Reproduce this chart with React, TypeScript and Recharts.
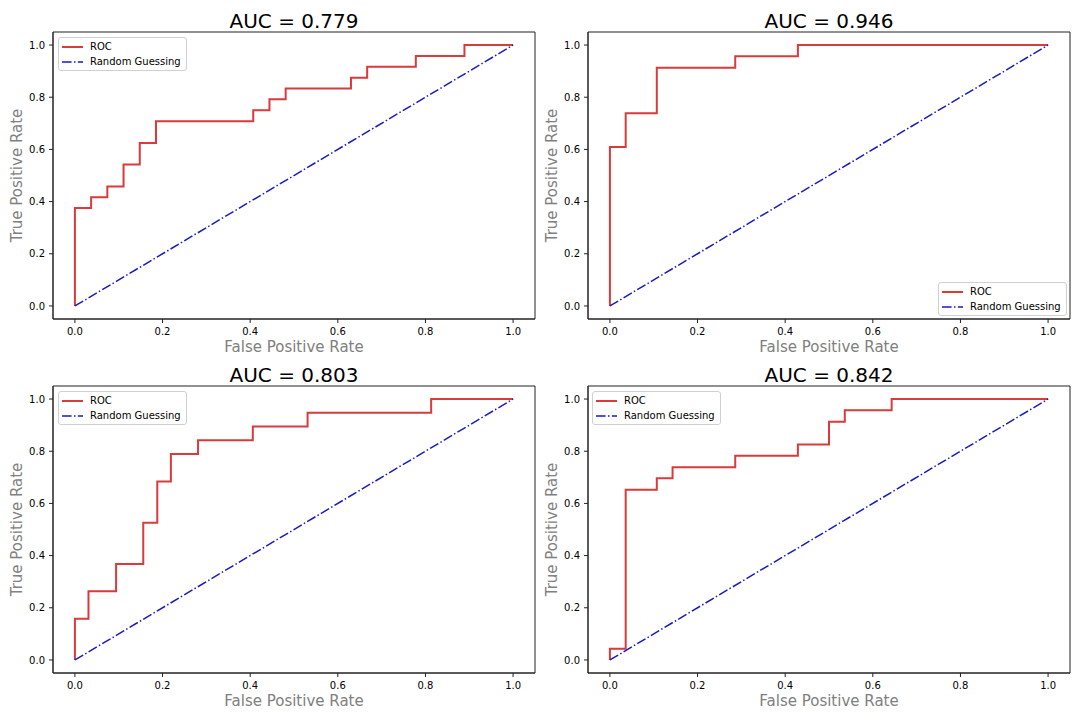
import { LineChart, Line, XAxis, YAxis, Legend, ReferenceArea, Label } from 'recharts';

// ROC curve corner points
const fpr1 = [0, 0, 0.037, 0.037, 0.074, 0.074, 0.111, 0.111, 0.148, 0.148, 0.185, 0.185, 0.407, 0.407, 0.444, 0.444, 0.481, 0.481, 0.63, 0.63, 0.667, 0.667, 0.778, 0.778, 0.889, 0.889, 1];
const tpr1 = [0, 0.375, 0.375, 0.417, 0.417, 0.458, 0.458, 0.542, 0.542, 0.625, 0.625, 0.708, 0.708, 0.75, 0.75, 0.792, 0.792, 0.833, 0.833, 0.875, 0.875, 0.917, 0.917, 0.958, 0.958, 1, 1];

const fpr2 = [0, 0, 0.036, 0.036, 0.107, 0.107, 0.286, 0.286, 0.429, 0.429, 1];
const tpr2 = [0, 0.609, 0.609, 0.739, 0.739, 0.913, 0.913, 0.957, 0.957, 1, 1];

const fpr3 = [0, 0, 0.031, 0.031, 0.094, 0.094, 0.156, 0.156, 0.188, 0.188, 0.219, 0.219, 0.281, 0.281, 0.406, 0.406, 0.531, 0.531, 0.813, 0.813, 1];
const tpr3 = [0, 0.158, 0.158, 0.263, 0.263, 0.368, 0.368, 0.526, 0.526, 0.684, 0.684, 0.789, 0.789, 0.842, 0.842, 0.895, 0.895, 0.947, 0.947, 1, 1];

const fpr4 = [0, 0, 0.036, 0.036, 0.107, 0.107, 0.143, 0.143, 0.286, 0.286, 0.429, 0.429, 0.5, 0.5, 0.536, 0.536, 0.643, 0.643, 1];
const tpr4 = [0, 0.043, 0.043, 0.652, 0.652, 0.696, 0.696, 0.739, 0.739, 0.783, 0.783, 0.826, 0.826, 0.913, 0.913, 0.957, 0.957, 1, 1];

const guessFpr = [0, 1];
const guessTpr = [0, 1];

const aucValues = ['0.779', '0.946', '0.803', '0.842'];
const ticks = [0, 0.2, 0.4, 0.6, 0.8, 1.0];

const ROC_COLOR = '#d93a3a';
const GUESS_COLOR = '#1a1ac0';
const GUESS_DASH = '9.6 2.4 1.5 2.4';
const FONT = '"DejaVu Sans", sans-serif';

const toPoints = (xs: number[], ys: number[]) => xs.map((x, i) => ({ x, y: ys[i] }));

function LegendBox() {
    const row = (label: string, color: string, dash?: string) => (
        <div style={{ display: 'flex', alignItems: 'center', height: 15 }}>
            <svg width={21} height={4} style={{ marginRight: 7 }}>
                <line x1={0} y1={2} x2={21} y2={2} stroke={color} strokeWidth={dash ? 1.5 : 2} strokeDasharray={dash} />
            </svg>
            <span style={{ fontSize: 10, color: '#000', whiteSpace: 'nowrap' }}>{label}</span>
        </div>
    );
    return (
        <div
            style={{
                border: '1px solid #d0d0d0',
                borderRadius: 3,
                background: 'rgba(255,255,255,0.8)',
                padding: '1px 5px 1px 3px',
                fontFamily: FONT,
            }}
        >
            {row('ROC', ROC_COLOR)}
            {row('Random Guessing', GUESS_COLOR, GUESS_DASH)}
        </div>
    );
}

interface PanelProps {
    auc: string;
    fpr: number[];
    tpr: number[];
    left: number;
    top: number;
    legendLeft: number;
    legendTop: number;
}

function RocPanel({ auc, fpr, tpr, left, top, legendLeft, legendTop }: PanelProps) {
    const roc = toPoints(fpr, tpr);
    const guess = toPoints(guessFpr, guessTpr);
    return (
        <div style={{ position: 'absolute', left, top, width: 540, height: 360 }}>
            <div
                style={{
                    position: 'absolute',
                    left: 53,
                    top: 11,
                    width: 482,
                    textAlign: 'center',
                    fontSize: 20,
                    lineHeight: '20px',
                    color: '#000',
                }}
            >
                AUC = {auc}
            </div>
            <LineChart width={540} height={360} margin={{ top: 32, right: 5, left: 11, bottom: 3 }}>
                <XAxis
                    type="number"
                    dataKey="x"
                    domain={[-0.05, 1.05]}
                    ticks={ticks}
                    tickFormatter={(v: number) => v.toFixed(1)}
                    allowDataOverflow
                    height={38}
                    tickSize={4}
                    tickMargin={5}
                    stroke="#222"
                    tick={{ fill: '#000', fontSize: 10 }}
                >
                    <Label value="False Positive Rate" position="insideBottom" offset={5} fill="#808080" fontSize={15} />
                </XAxis>
                <YAxis
                    type="number"
                    domain={[-0.05, 1.05]}
                    ticks={ticks}
                    tickFormatter={(v: number) => v.toFixed(1)}
                    allowDataOverflow
                    width={42}
                    tickSize={4}
                    tickMargin={4}
                    stroke="#222"
                    tick={{ fill: '#000', fontSize: 10 }}
                >
                    <Label
                        value="True Positive Rate"
                        position="insideLeft"
                        angle={-90}
                        offset={6}
                        fill="#808080"
                        fontSize={15}
                        style={{ textAnchor: 'middle' }}
                    />
                </YAxis>
                <ReferenceArea x1={-0.05} x2={1.05} y1={-0.05} y2={1.05} fill="none" stroke="#222" strokeWidth={1} />
                <Line
                    data={roc}
                    dataKey="y"
                    name="ROC"
                    type="linear"
                    stroke={ROC_COLOR}
                    strokeWidth={2}
                    dot={false}
                    activeDot={false}
                    isAnimationActive={false}
                />
                <Line
                    data={guess}
                    dataKey="y"
                    name="Random Guessing"
                    type="linear"
                    stroke={GUESS_COLOR}
                    strokeWidth={1.5}
                    strokeDasharray={GUESS_DASH}
                    dot={false}
                    activeDot={false}
                    isAnimationActive={false}
                />
                <Legend
                    layout="horizontal"
                    verticalAlign="middle"
                    content={() => <LegendBox />}
                    wrapperStyle={{ left: legendLeft, top: legendTop, width: 'auto', height: 'auto' }}
                />
            </LineChart>
        </div>
    );
}

export default function App() {
    return (
        <div
            style={{
                position: 'absolute',
                left: 0,
                top: 0,
                width: 1080,
                height: 720,
                background: '#fff',
                fontFamily: FONT,
            }}
        >
            <RocPanel auc={aucValues[0]} fpr={fpr1} tpr={tpr1} left={0} top={0} legendLeft={58} legendTop={37} />
            <RocPanel auc={aucValues[1]} fpr={fpr2} tpr={tpr2} left={535} top={0} legendLeft={403} legendTop={282} />
            <RocPanel auc={aucValues[2]} fpr={fpr3} tpr={tpr3} left={0} top={354} legendLeft={58} legendTop={37} />
            <RocPanel auc={aucValues[3]} fpr={fpr4} tpr={tpr4} left={535} top={354} legendLeft={57} legendTop={37} />
        </div>
    );
}
